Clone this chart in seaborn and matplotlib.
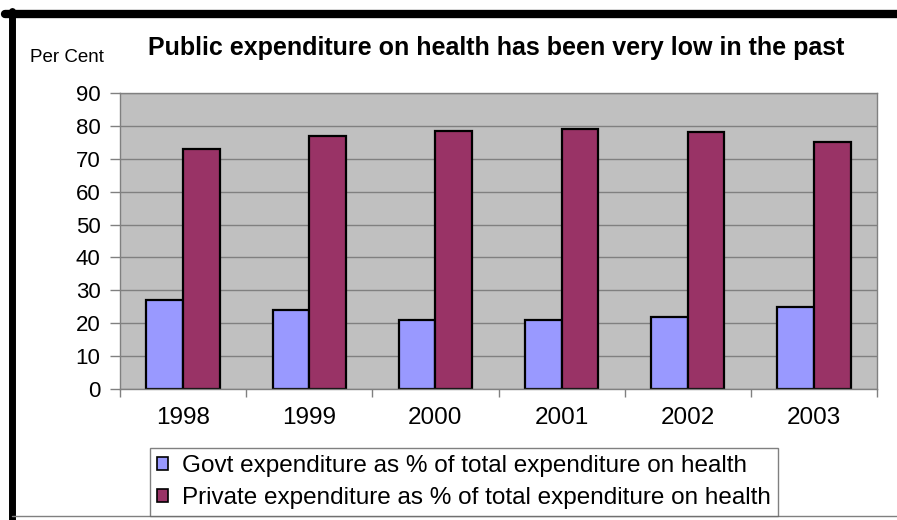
import matplotlib
matplotlib.use("Agg")
import matplotlib.pyplot as plt
from matplotlib.lines import Line2D
from matplotlib.patches import Patch
from matplotlib.ticker import FixedLocator, NullFormatter
import seaborn as sns
import pandas as pd

years = ["1998", "1999", "2000", "2001", "2002", "2003"]
govt_share = [27, 24, 21, 21, 22, 25]
private_share = [73, 77, 78.5, 79, 78, 75]
series_names = [
    "Govt expenditure as % of total expenditure on health",
    "Private expenditure as % of total expenditure on health",
]
y_ticks = [0, 10, 20, 30, 40, 50, 60, 70, 80, 90]

df = pd.DataFrame({
    "Year": years * 2,
    "Series": [series_names[0]] * len(years) + [series_names[1]] * len(years),
    "Value": govt_share + private_share,
})

sns.set_theme(style="white")
plt.rcParams["font.family"] = ["Liberation Sans", "DejaVu Sans"]
plt.rcParams["text.color"] = "black"

colors = {series_names[0]: "#9999FF", series_names[1]: "#993366"}

fig = plt.figure(figsize=(8.97, 5.20), dpi=100)
ax = fig.add_axes([120 / 897, 1 - 389 / 520, (877 - 120) / 897, (389 - 93) / 520])
ax.set_facecolor("#C0C0C0")

sns.barplot(data=df, x="Year", y="Value", hue="Series", order=years,
            hue_order=series_names, palette=colors, width=0.58,
            edgecolor="black", linewidth=1.6, saturation=1, ax=ax,
            legend=False)

ax.set_ylim(0, 90)
ax.set_xlim(-0.5, len(years) - 0.5)
ax.set_yticks(y_ticks)
ax.yaxis.grid(True, color="#808080", linewidth=1.0)
ax.set_axisbelow(True)
ax.set_xlabel("")
ax.set_ylabel("")

for side, sp in ax.spines.items():
    sp.set_visible(True)
    sp.set_color("#808080")
    sp.set_linewidth(1.0)

# category labels centred, tick marks between categories
ax.tick_params(axis="x", which="major", length=0, pad=13, labelsize=17.5, labelcolor="black")
ax.xaxis.set_minor_locator(FixedLocator([i - 0.5 for i in range(len(years) + 1)]))
ax.xaxis.set_minor_formatter(NullFormatter())
ax.tick_params(axis="x", which="minor", bottom=True, length=6, width=1, color="#808080")
ax.tick_params(axis="y", which="major", left=True, length=7, width=1, color="#808080",
               pad=7, labelsize=16, labelcolor="black")

fig.text(148 / 897, 1 - 48 / 520, "Public expenditure on health has been very low in the past",
         fontsize=18, fontweight="bold", ha="left", va="center", color="black")
fig.text(30 / 897, 1 - 58 / 520, "Per Cent", fontsize=13.5, ha="left", va="center",
         color="black")

handles = [Patch(facecolor=colors[s], edgecolor="black", linewidth=1.2) for s in series_names]
leg = fig.legend(handles, series_names, loc="lower left",
                 bbox_to_anchor=(150 / 897, 4 / 520), fontsize=17.5,
                 frameon=True, fancybox=False, handlelength=0.45, handleheight=0.45,
                 handletextpad=0.55, borderpad=0.3, labelspacing=0.4,
                 borderaxespad=0)
leg.get_frame().set_edgecolor("#606060")
leg.get_frame().set_linewidth(1.0)
for t in leg.get_texts():
    t.set_color("black")

# outer frame pieces
fig.add_artist(Line2D([5 / 897, 1], [1 - 14 / 520, 1 - 14 / 520], color="black",
                      linewidth=6, transform=fig.transFigure))
fig.add_artist(Line2D([11.5 / 897, 11.5 / 897], [1 - 11 / 520, 0], color="black",
                      linewidth=5, transform=fig.transFigure))
fig.add_artist(Line2D([11.5 / 897, 1], [1 - 516 / 520, 1 - 516 / 520], color="#808080",
                      linewidth=1, transform=fig.transFigure))

fig.savefig("out.png", dpi=100)
